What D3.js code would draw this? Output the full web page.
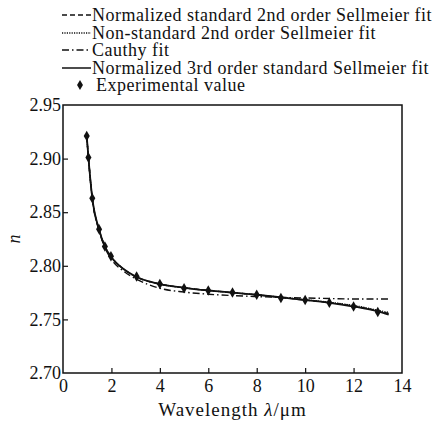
<!DOCTYPE html>
<html>
<head>
<meta charset="utf-8">
<script src="https://cdn.jsdelivr.net/npm/d3@7"></script>
<style>
  body { margin: 0; background: #fff; }
  text { font-family: "Liberation Serif", "Times New Roman", serif; fill: #111; }
</style>
</head>
<body>
<div class="content"></div>
<script>
////////// data /////////
// wavelength samples used for the fitted curves (um)
var waveFit = [0.98, 1.05, 1.2, 1.5, 1.75, 2, 2.5, 3, 4, 5, 6, 7, 8, 9, 10, 11, 12, 13, 13.45];
var std3rd   = [2.921, 2.901, 2.865, 2.833, 2.817, 2.808, 2.797, 2.790, 2.783, 2.7795, 2.777, 2.775, 2.773, 2.7705, 2.768, 2.7655, 2.762, 2.7575, 2.7545];
var std2nd   = [2.921, 2.901, 2.865, 2.833, 2.817, 2.808, 2.797, 2.790, 2.783, 2.7795, 2.777, 2.775, 2.773, 2.7705, 2.768, 2.7657, 2.7625, 2.758, 2.7555];
var nonStd2nd = [2.921, 2.901, 2.865, 2.833, 2.817, 2.808, 2.797, 2.790, 2.783, 2.7795, 2.777, 2.775, 2.773, 2.7707, 2.7684, 2.766, 2.763, 2.7585, 2.7565];
var cauchy   = [2.921, 2.901, 2.864, 2.832, 2.816, 2.806, 2.795, 2.788, 2.7790, 2.7755, 2.7735, 2.7722, 2.7713, 2.7705, 2.770, 2.7695, 2.769, 2.769, 2.769];

// experimental points
var waveExp = [0.98, 1.05, 1.21, 1.49, 1.73, 1.98, 3.04, 4, 5, 6, 7, 8, 9, 10, 11, 12, 13];
var nExp    = [2.921, 2.901, 2.863, 2.834, 2.818, 2.809, 2.790, 2.783, 2.779, 2.777, 2.775, 2.773, 2.770, 2.768, 2.7656, 2.762, 2.757];

var xTicks = [0, 2, 4, 6, 8, 10, 12, 14];
var yTicks = [2.70, 2.75, 2.80, 2.85, 2.90, 2.95];

var legendLabels = [
  'Normalized standard 2nd order Sellmeier fit',
  'Non-standard 2nd order Sellmeier fit',
  'Cauthy fit',
  'Normalized 3rd order standard Sellmeier fit',
  'Experimental value'
];

////////// svg /////////
var svg = d3.select('.content').append('svg')
  .attr('width', 437)
  .attr('height', 423);

// plot box (window.top is reserved, so use other names)
var pLeft = 63, pRight = 402, pTop = 105, pBottom = 373;

var x = d3.scaleLinear().domain([0, 14]).range([pLeft, pRight]);
var y = d3.scaleLinear().domain([2.70, 2.95]).range([pBottom, pTop]);

var ink = '#111';

// frame
svg.append('rect')
  .attr('x', pLeft)
  .attr('y', pTop)
  .attr('width', pRight - pLeft)
  .attr('height', pBottom - pTop)
  .style('fill', 'none')
  .style('stroke', ink)
  .style('stroke-width', 1.5);

// axes, ticks pointing inward
var xAxis = svg.append('g')
  .attr('transform', 'translate(0,' + pBottom + ')')
  .call(d3.axisBottom(x).tickValues(xTicks).tickSizeInner(-5).tickSizeOuter(0).tickPadding(6));
xAxis.select('.domain').remove();
xAxis.selectAll('line').style('stroke', ink).style('stroke-width', 1.2);
xAxis.selectAll('text')
  .style('font-size', '18px')
  .style('font-family', '"Liberation Serif", serif')
  .style('fill', ink);
xAxis.selectAll('.tick').filter(function(d) { return d === 0 || d === 14; }).select('line').remove();

var yAxis = svg.append('g')
  .attr('transform', 'translate(' + pLeft + ',0)')
  .call(d3.axisLeft(y).tickValues(yTicks).tickFormat(d3.format('.2f')).tickSizeInner(-5).tickSizeOuter(0).tickPadding(2));
yAxis.select('.domain').remove();
yAxis.selectAll('line').style('stroke', ink).style('stroke-width', 1.2);
yAxis.selectAll('text')
  .style('font-size', '18px')
  .style('font-family', '"Liberation Serif", serif')
  .style('fill', ink);
yAxis.selectAll('.tick').filter(function(d) { return d === 2.70 || d === 2.95; }).select('line').remove();

// axis titles
var xt = svg.append('text')
  .attr('x', (pLeft + pRight) / 2)
  .attr('y', 416)
  .attr('text-anchor', 'middle')
  .style('font-size', '19px')
  .style('letter-spacing', '1px');
xt.append('tspan').text('Wavelength ');
xt.append('tspan').style('font-style', 'italic').text('\u03bb');
xt.append('tspan').text('/\u03bcm');

svg.append('text')
  .attr('transform', 'translate(20,239) rotate(-90)')
  .attr('text-anchor', 'middle')
  .style('font-size', '18px')
  .style('font-style', 'italic')
  .text('n');

////////// curves /////////
var line = d3.line()
  .x(function(d) { return x(d[0]); })
  .y(function(d) { return y(d[1]); })
  .curve(d3.curveMonotoneX);

var series = [
  { vals: cauchy,    dash: '7,3,1.5,3', w: 1.4 },
  { vals: nonStd2nd, dash: '1.2,1.2',   w: 1.4 },
  { vals: std2nd,    dash: '5,3',       w: 1.4 },
  { vals: std3rd,    dash: null,        w: 1.8 }
];

series.forEach(function(s) {
  svg.append('path')
    .datum(d3.zip(waveFit, s.vals))
    .attr('d', line)
    .style('fill', 'none')
    .style('stroke', ink)
    .style('stroke-width', s.w)
    .style('stroke-dasharray', s.dash);
});

// experimental markers
svg.append('g').selectAll('path')
  .data(d3.zip(waveExp, nExp))
  .enter().append('path')
  .attr('transform', function(d) { return 'translate(' + x(d[0]) + ',' + y(d[1]) + ')'; })
  .attr('d', d3.symbol().type(d3.symbolDiamond).size(32))
  .style('fill', ink);

////////// legend /////////
var legend = svg.append('g');
var rowY = [15, 33, 50, 68, 85];
var legendDash = ['5,3', '1.2,1.2', '7,3,1.5,3', null];

legendLabels.forEach(function(label, i) {
  if (i < 4) {
    legend.append('line')
      .attr('x1', 62).attr('x2', 91)
      .attr('y1', rowY[i]).attr('y2', rowY[i])
      .style('stroke', ink)
      .style('stroke-width', i === 3 ? 1.5 : 1.3)
      .style('stroke-dasharray', legendDash[i]);
  } else {
    legend.append('path')
      .attr('transform', 'translate(80,' + rowY[i] + ')')
      .attr('d', d3.symbol().type(d3.symbolDiamond).size(30))
      .style('fill', ink);
  }
  legend.append('text')
    .attr('x', i < 4 ? 92 : 96)
    .attr('y', rowY[i] + 5.5)
    .style('font-size', '18px')
    .style('letter-spacing', '0.5px')
    .text(label);
});
</script>
</body>
</html>
